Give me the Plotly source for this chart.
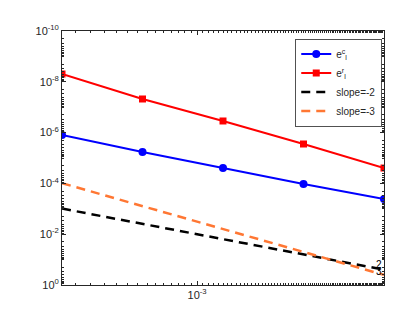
import numpy as np
import plotly.graph_objects as go

# data
h = [3.125e-4, 6.25e-4, 1.25e-3, 2.5e-3, 5e-3]
err_c = [1.24e-6, 5.8e-6, 2.48e-5, 1.06e-4, 4.11e-4]
err_r = [4.93e-9, 4.75e-8, 3.49e-7, 2.81e-6, 2.48e-5]
slope2 = [9.8e-4, 3.9e-3, 1.56e-2, 6.25e-2, 0.25]
slope3 = [9.8e-5, 7.8e-4, 6.25e-3, 5e-2, 0.4]
names = ["e<sup>c</sup><sub>l</sub>", "e<sup>r</sup><sub>l</sub>", "slope=-2", "slope=-3"]
ytickvals = [1e-10, 1e-8, 1e-6, 1e-4, 1e-2, 1e0]
yticktext = ["10<sup>-10</sup>", "10<sup>-8</sup>", "10<sup>-6</sup>",
             "10<sup>-4</sup>", "10<sup>-2</sup>", "10<sup>0</sup>"]
xtickvals = [1e-3]
xticktext = ["10<sup>-3</sup>"]

fig = go.Figure()
fig.add_trace(go.Scatter(x=h, y=err_c, name=names[0], mode="lines+markers",
                         line=dict(color="#0000FF", width=2),
                         marker=dict(symbol="circle", size=8, color="#0000FF")))
fig.add_trace(go.Scatter(x=h, y=err_r, name=names[1], mode="lines+markers",
                         line=dict(color="#FF0000", width=2),
                         marker=dict(symbol="square", size=7, color="#FF0000")))
fig.add_trace(go.Scatter(x=h, y=slope2, name=names[2], mode="lines",
                         line=dict(color="#000000", width=2.5, dash="9px,6px")))
fig.add_trace(go.Scatter(x=h, y=slope3, name=names[3], mode="lines",
                         line=dict(color="#FF7733", width=2.5, dash="9px,6px")))

fig.add_annotation(x=np.log10(h[-1]), y=np.log10(0.15), text="2", showarrow=False,
                   xanchor="right", yanchor="middle", font=dict(size=10, color="#000"))
fig.add_annotation(x=np.log10(h[-1]), y=np.log10(0.30), text="3", showarrow=False,
                   xanchor="right", yanchor="middle", font=dict(size=10, color="#000"))

axis_common = dict(type="log", showgrid=False, zeroline=False, showline=True,
                   linecolor="#262626", linewidth=0.8, mirror="ticks",
                   ticks="inside", ticklen=4, tickcolor="#262626",
                   tickfont=dict(size=11, color="#262626"))

fig.update_xaxes(**axis_common, range=[np.log10(h[0]), np.log10(h[-1])],
                 tickvals=xtickvals, ticktext=xticktext,
                 minor=dict(ticks="inside", ticklen=2, tickcolor="#262626",
                            showgrid=False))
fig.update_yaxes(**axis_common, range=[0, -10], tickvals=ytickvals, ticktext=yticktext,
                 minor=dict(ticks="inside", ticklen=2, tickcolor="#262626",
                            showgrid=False,
                            tickvals=[m * 10.0 ** e for e in range(-10, 0) for m in range(1, 10)]))

fig.update_layout(
    width=415, height=312,
    margin=dict(l=54, r=39, t=23, b=35),
    paper_bgcolor="white", plot_bgcolor="white",
    font=dict(family="Liberation Sans, Arial, sans-serif", size=11, color="#262626"),
    legend=dict(x=0.725, y=0.97, xanchor="left", yanchor="top",
                bgcolor="white", bordercolor="#262626", borderwidth=0.8,
                font=dict(size=10, color="#262626"), itemwidth=30,
                tracegroupgap=0),
    showlegend=True,
)

fig.write_html("out.html")
